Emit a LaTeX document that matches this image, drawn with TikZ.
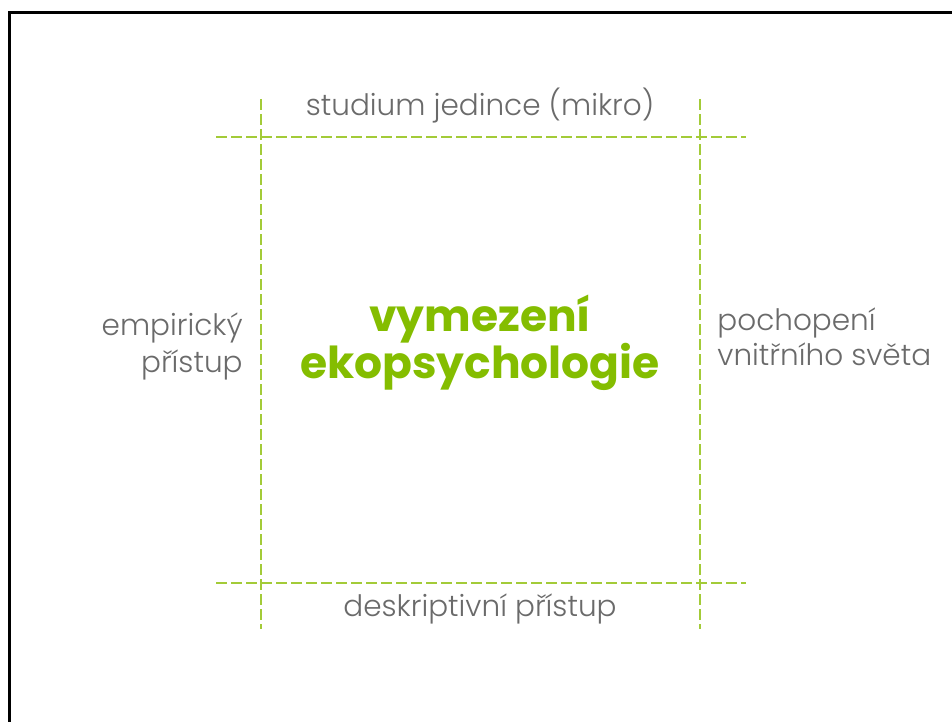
\documentclass[tikz,border=0pt]{standalone}
\usepackage{fontspec}
\setmainfont{Poppins}
\newfontfamily\lightfont{Poppins Light}
\definecolor{osa}{HTML}{A3CB38}
\definecolor{titul}{HTML}{84BD00}
\definecolor{popis}{HTML}{6A6A6A}
\begin{document}
\begin{tikzpicture}[x=1pt,y=-1pt,thick,
  osa/.style={draw=osa,line width=1.3pt,dash pattern=on 11pt off 4pt},
  popis/.style={text=popis,font=\lightfont\fontsize{29.5}{36}\selectfont,inner sep=0pt,anchor=base},
  titul/.style={text=titul,font=\bfseries\fontsize{44}{50}\selectfont,inner sep=0pt,anchor=base}]
 \useasboundingbox (0,0) rectangle (952,722);
 \draw[line width=3pt] (9,740) -- (9,13) -- (970,13);
 % osy
 \coordinate (h1) at (216,137);
 \coordinate (h2) at (746,137);
 \coordinate (d1) at (216,583);
 \coordinate (d2) at (746,583);
 \coordinate (l1) at (261,99);
 \coordinate (l2) at (261,629);
 \coordinate (p1) at (700,99);
 \coordinate (p2) at (700,629);
 \draw[osa] (h1) -- (h2);
 \draw[osa] (d1) -- (d2);
 \draw[osa] (l1) -- (l2);
 \draw[osa] (p1) -- (p2);
 % popisky
 \node[popis] (mikro) at (480,116) {studium jedince (mikro)};
 \node[popis] (deskr) at (480,616) {deskriptivní přístup};
 \node[popis,anchor=base east] (emp1) at (243,335) {empirický};
 \node[popis,anchor=base east] (emp2) at (243,372) {přístup};
 \node[popis,anchor=base west] (poch1) at (717,330) {pochopení};
 \node[popis,anchor=base west] (poch2) at (717,365) {vnitřního světa};
 \node[titul] (vym) at (480,331) {vymezení};
 \node[titul] (eko) at (480,378) {ekopsychologie};
\end{tikzpicture}
\end{document}
